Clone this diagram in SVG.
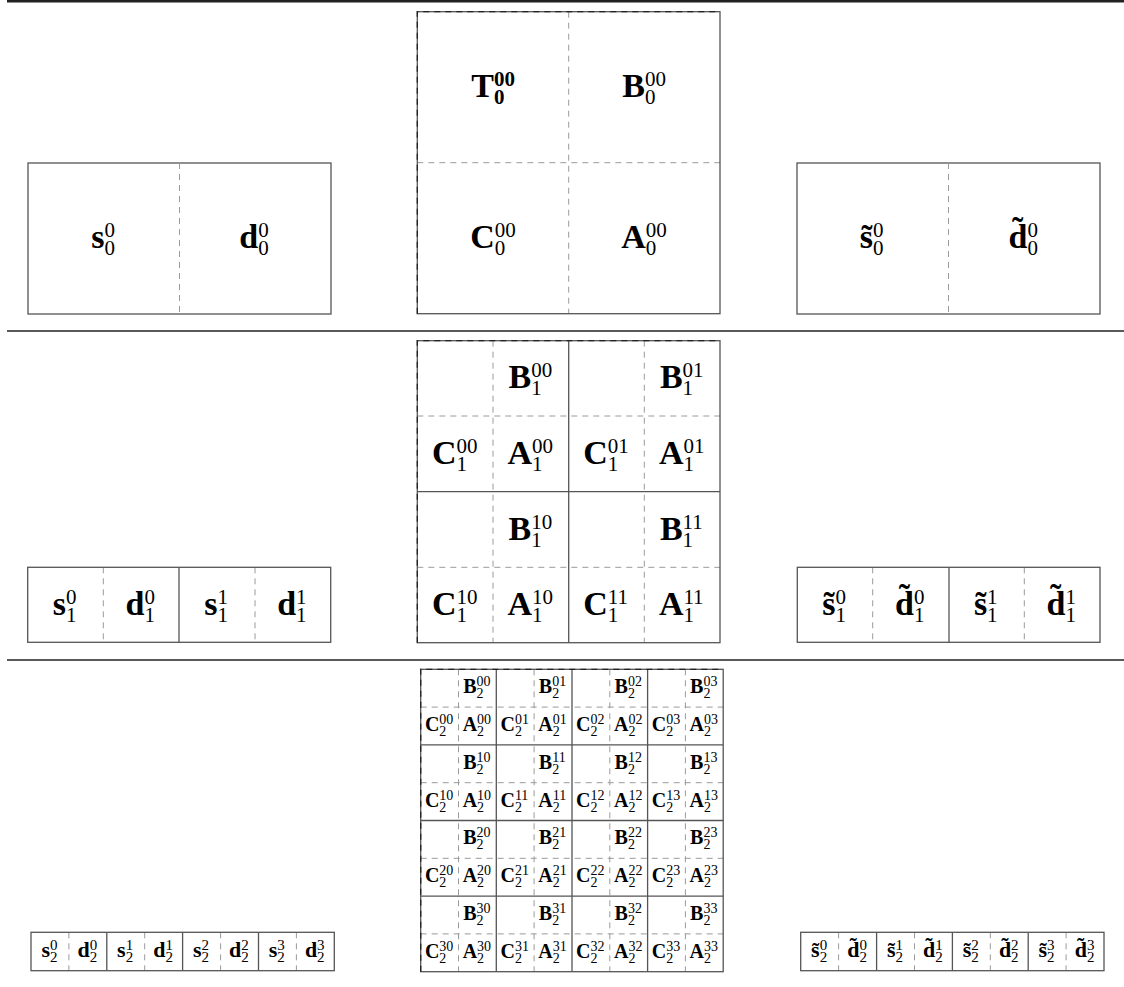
<svg xmlns="http://www.w3.org/2000/svg" width="1124" height="987" viewBox="0 0 1124 987">
<style>
.box{fill:none;stroke:#555;stroke-width:1.3}
.solid{fill:none;stroke:#555;stroke-width:1.3}
.dash{fill:none;stroke:#9a9a9a;stroke-width:1;stroke-dasharray:6 5}
.edge{fill:none;stroke:#222;stroke-width:1.3;stroke-dasharray:6 5}
.rule{stroke:#222}
text{font-family:"Liberation Serif","Times New Roman",serif;fill:#000}
.m1{font-size:34px;font-weight:bold}
.s1{font-size:21px;font-weight:normal}
.b1{font-size:21px;font-weight:bold}
.m2{font-size:20px;font-weight:bold}
.s2{font-size:14px;font-weight:normal}
.m3{font-size:22px;font-weight:bold}
.s3{font-size:15px;font-weight:normal}
</style>
<rect width="1124" height="987" fill="#fff"/>
<g id="rules">
<line class="rule" x1="7" y1="1.2" x2="1124" y2="1.2" stroke-width="2.4"/>
<line class="rule" x1="7" y1="331" x2="1124" y2="331" stroke-width="1.5"/>
<line class="rule" x1="7" y1="660" x2="1124" y2="660" stroke-width="1.5"/>
</g>
<g id="connectors"></g>

<g id="level0-signal">
<rect class="box" x="28" y="163" width="303" height="151"/>
<path class="dash" d="M179.5,163V314"/>
<text class="m1" x="91.2" y="248">s<tspan class="s1" x="104.4" dy="-11">0</tspan><tspan class="s1" x="104.4" dy="18">0</tspan></text>
<text class="m1" x="239.3" y="248">d<tspan class="s1" x="258.2" dy="-11">0</tspan><tspan class="s1" x="258.2" dy="18">0</tspan></text>
</g>

<g id="level0-matrix">
<path class="dash" d="M568.7,11.7V313.7M417.3,162.7H720"/>
<rect class="box" x="417.3" y="11.7" width="302.7" height="302"/>
<path class="edge" d="M417.3,313.7V11.7H720"/>
<text class="m1" x="471.2" y="97">T<tspan class="b1" x="493.9" dy="-11">00</tspan><tspan class="b1" x="493.9" dy="18">0</tspan></text>
<text class="m1" x="622.2" y="97">B<tspan class="s1" x="644.9" dy="-11">00</tspan><tspan class="s1" x="644.9" dy="18">0</tspan></text>
<text class="m1" x="470.3" y="248">C<tspan class="s1" x="494.8" dy="-11">00</tspan><tspan class="s1" x="494.8" dy="18">0</tspan></text>
<text class="m1" x="621.3" y="248">A<tspan class="s1" x="645.8" dy="-11">00</tspan><tspan class="s1" x="645.8" dy="18">0</tspan></text>
</g>

<g id="level0-transformed">
<rect class="box" x="797" y="163" width="303" height="151"/>
<path class="dash" d="M948.5,163V314"/>
<text class="m1" x="859.8" y="248">s̃<tspan class="s1" x="873" dy="-11">0</tspan><tspan class="s1" x="873" dy="18">0</tspan></text>
<text class="m1" x="1008.5" y="248">d̃<tspan class="s1" x="1027.4" dy="-11">0</tspan><tspan class="s1" x="1027.4" dy="18">0</tspan></text>
</g>

<g id="level1-signal">
<path class="dash" d="M103.3,567.3V642.3M255,567.3V642.3"/>
<path class="solid" d="M179,567.3V642.3"/>
<rect class="box" x="27.7" y="567.3" width="303" height="75"/>
<text class="m1" x="52.7" y="615">s<tspan class="s1" x="65.9" dy="-11">0</tspan><tspan class="s1" x="65.9" dy="18">1</tspan></text>
<text class="m1" x="125.5" y="615">d<tspan class="s1" x="144.4" dy="-11">0</tspan><tspan class="s1" x="144.4" dy="18">1</tspan></text>
<text class="m1" x="204.2" y="615">s<tspan class="s1" x="217.4" dy="-11">1</tspan><tspan class="s1" x="217.4" dy="18">1</tspan></text>
<text class="m1" x="277.2" y="615">d<tspan class="s1" x="296.1" dy="-11">1</tspan><tspan class="s1" x="296.1" dy="18">1</tspan></text>
</g>

<g id="level1-matrix">
<path class="dash" d="M493,340.7V642.7M644.3,340.7V642.7M417.3,416H720M417.3,567.3H720"/>
<path class="solid" d="M568.7,340.7V642.7M417.3,491.7H720"/>
<rect class="box" x="417.3" y="340.7" width="302.7" height="302"/>
<path class="edge" d="M417.3,642.7V340.7H720"/>
<text class="m1" x="508.5" y="388">B<tspan class="s1" x="531.2" dy="-11">00</tspan><tspan class="s1" x="531.2" dy="18">1</tspan></text>
<text class="m1" x="659.9" y="388">B<tspan class="s1" x="682.6" dy="-11">01</tspan><tspan class="s1" x="682.6" dy="18">1</tspan></text>
<text class="m1" x="431.9" y="464">C<tspan class="s1" x="456.4" dy="-11">00</tspan><tspan class="s1" x="456.4" dy="18">1</tspan></text>
<text class="m1" x="507.5" y="464">A<tspan class="s1" x="532" dy="-11">00</tspan><tspan class="s1" x="532" dy="18">1</tspan></text>
<text class="m1" x="583.2" y="464">C<tspan class="s1" x="607.7" dy="-11">01</tspan><tspan class="s1" x="607.7" dy="18">1</tspan></text>
<text class="m1" x="658.9" y="464">A<tspan class="s1" x="683.4" dy="-11">01</tspan><tspan class="s1" x="683.4" dy="18">1</tspan></text>
<text class="m1" x="508.5" y="540">B<tspan class="s1" x="531.2" dy="-11">10</tspan><tspan class="s1" x="531.2" dy="18">1</tspan></text>
<text class="m1" x="659.9" y="540">B<tspan class="s1" x="682.6" dy="-11">11</tspan><tspan class="s1" x="682.6" dy="18">1</tspan></text>
<text class="m1" x="431.9" y="615">C<tspan class="s1" x="456.4" dy="-11">10</tspan><tspan class="s1" x="456.4" dy="18">1</tspan></text>
<text class="m1" x="507.5" y="615">A<tspan class="s1" x="532" dy="-11">10</tspan><tspan class="s1" x="532" dy="18">1</tspan></text>
<text class="m1" x="583.2" y="615">C<tspan class="s1" x="607.7" dy="-11">11</tspan><tspan class="s1" x="607.7" dy="18">1</tspan></text>
<text class="m1" x="658.9" y="615">A<tspan class="s1" x="683.4" dy="-11">11</tspan><tspan class="s1" x="683.4" dy="18">1</tspan></text>
</g>

<g id="level1-transformed">
<path class="dash" d="M872.7,567.3V642.3M1024.3,567.3V642.3"/>
<path class="solid" d="M949,567.3V642.3"/>
<rect class="box" x="797.3" y="567.3" width="302.7" height="75"/>
<text class="m1" x="822.2" y="615">s̃<tspan class="s1" x="835.4" dy="-11">0</tspan><tspan class="s1" x="835.4" dy="18">1</tspan></text>
<text class="m1" x="895.1" y="615">d̃<tspan class="s1" x="914" dy="-11">0</tspan><tspan class="s1" x="914" dy="18">1</tspan></text>
<text class="m1" x="973.9" y="615">s̃<tspan class="s1" x="987.1" dy="-11">1</tspan><tspan class="s1" x="987.1" dy="18">1</tspan></text>
<text class="m1" x="1046.5" y="615">d̃<tspan class="s1" x="1065.4" dy="-11">1</tspan><tspan class="s1" x="1065.4" dy="18">1</tspan></text>
</g>

<g id="level2-signal">
<path class="dash" d="M68.9,932.3V970.7M144.7,932.3V970.7M220.6,932.3V970.7M296.4,932.3V970.7"/>
<path class="solid" d="M106.8,932.3V970.7M182.6,932.3V970.7M258.5,932.3V970.7"/>
<rect class="box" x="31" y="932.3" width="303.3" height="38.4"/>
<text class="m3" x="41.4" y="957">s<tspan class="s3" x="50" dy="-7.5">0</tspan><tspan class="s3" x="50" dy="12.5">2</tspan></text>
<text class="m3" x="77.5" y="957">d<tspan class="s3" x="89.7" dy="-7.5">0</tspan><tspan class="s3" x="89.7" dy="12.5">2</tspan></text>
<text class="m3" x="117.1" y="957">s<tspan class="s3" x="125.7" dy="-7.5">1</tspan><tspan class="s3" x="125.7" dy="12.5">2</tspan></text>
<text class="m3" x="153.3" y="957">d<tspan class="s3" x="165.5" dy="-7.5">1</tspan><tspan class="s3" x="165.5" dy="12.5">2</tspan></text>
<text class="m3" x="192.9" y="957">s<tspan class="s3" x="201.5" dy="-7.5">2</tspan><tspan class="s3" x="201.5" dy="12.5">2</tspan></text>
<text class="m3" x="229.1" y="957">d<tspan class="s3" x="241.3" dy="-7.5">2</tspan><tspan class="s3" x="241.3" dy="12.5">2</tspan></text>
<text class="m3" x="268.7" y="957">s<tspan class="s3" x="277.3" dy="-7.5">3</tspan><tspan class="s3" x="277.3" dy="12.5">2</tspan></text>
<text class="m3" x="304.9" y="957">d<tspan class="s3" x="317.1" dy="-7.5">3</tspan><tspan class="s3" x="317.1" dy="12.5">2</tspan></text>
</g>

<g id="level2-matrix">
<path class="dash" d="M458.5,669.3V971.7M534.1,669.3V971.7M609.8,669.3V971.7M685.4,669.3V971.7M420.7,707.1H723.2M420.7,782.7H723.2M420.7,858.3H723.2M420.7,933.9H723.2"/>
<path class="solid" d="M496.3,669.3V971.7M572,669.3V971.7M647.6,669.3V971.7M420.7,744.9H723.2M420.7,820.5H723.2M420.7,896.1H723.2"/>
<rect class="box" x="420.7" y="669.3" width="302.5" height="302.4"/>
<path class="edge" d="M420.7,971.7V669.3H723.2"/>
<g id="level2-row0">
<text class="m2" x="463.2" y="693.2">B<tspan class="s2" x="476.6" dy="-7">00</tspan><tspan class="s2" x="476.6" dy="12">2</tspan></text>
<text class="m2" x="538.8" y="693.2">B<tspan class="s2" x="552.2" dy="-7">01</tspan><tspan class="s2" x="552.2" dy="12">2</tspan></text>
<text class="m2" x="614.5" y="693.2">B<tspan class="s2" x="627.9" dy="-7">02</tspan><tspan class="s2" x="627.9" dy="12">2</tspan></text>
<text class="m2" x="690.1" y="693.2">B<tspan class="s2" x="703.5" dy="-7">03</tspan><tspan class="s2" x="703.5" dy="12">2</tspan></text>
<text class="m2" x="424.9" y="731">C<tspan class="s2" x="439.3" dy="-7">00</tspan><tspan class="s2" x="439.3" dy="12">2</tspan></text>
<text class="m2" x="462.7" y="731">A<tspan class="s2" x="477.1" dy="-7">00</tspan><tspan class="s2" x="477.1" dy="12">2</tspan></text>
<text class="m2" x="500.5" y="731">C<tspan class="s2" x="514.9" dy="-7">01</tspan><tspan class="s2" x="514.9" dy="12">2</tspan></text>
<text class="m2" x="538.3" y="731">A<tspan class="s2" x="552.7" dy="-7">01</tspan><tspan class="s2" x="552.7" dy="12">2</tspan></text>
<text class="m2" x="576.1" y="731">C<tspan class="s2" x="590.5" dy="-7">02</tspan><tspan class="s2" x="590.5" dy="12">2</tspan></text>
<text class="m2" x="614" y="731">A<tspan class="s2" x="628.4" dy="-7">02</tspan><tspan class="s2" x="628.4" dy="12">2</tspan></text>
<text class="m2" x="651.8" y="731">C<tspan class="s2" x="666.2" dy="-7">03</tspan><tspan class="s2" x="666.2" dy="12">2</tspan></text>
<text class="m2" x="689.6" y="731">A<tspan class="s2" x="704" dy="-7">03</tspan><tspan class="s2" x="704" dy="12">2</tspan></text>
</g>
<g id="level2-row1">
<text class="m2" x="463.2" y="768.8">B<tspan class="s2" x="476.6" dy="-7">10</tspan><tspan class="s2" x="476.6" dy="12">2</tspan></text>
<text class="m2" x="538.8" y="768.8">B<tspan class="s2" x="552.2" dy="-7">11</tspan><tspan class="s2" x="552.2" dy="12">2</tspan></text>
<text class="m2" x="614.5" y="768.8">B<tspan class="s2" x="627.9" dy="-7">12</tspan><tspan class="s2" x="627.9" dy="12">2</tspan></text>
<text class="m2" x="690.1" y="768.8">B<tspan class="s2" x="703.5" dy="-7">13</tspan><tspan class="s2" x="703.5" dy="12">2</tspan></text>
<text class="m2" x="424.9" y="806.6">C<tspan class="s2" x="439.3" dy="-7">10</tspan><tspan class="s2" x="439.3" dy="12">2</tspan></text>
<text class="m2" x="462.7" y="806.6">A<tspan class="s2" x="477.1" dy="-7">10</tspan><tspan class="s2" x="477.1" dy="12">2</tspan></text>
<text class="m2" x="500.5" y="806.6">C<tspan class="s2" x="514.9" dy="-7">11</tspan><tspan class="s2" x="514.9" dy="12">2</tspan></text>
<text class="m2" x="538.3" y="806.6">A<tspan class="s2" x="552.7" dy="-7">11</tspan><tspan class="s2" x="552.7" dy="12">2</tspan></text>
<text class="m2" x="576.1" y="806.6">C<tspan class="s2" x="590.5" dy="-7">12</tspan><tspan class="s2" x="590.5" dy="12">2</tspan></text>
<text class="m2" x="614" y="806.6">A<tspan class="s2" x="628.4" dy="-7">12</tspan><tspan class="s2" x="628.4" dy="12">2</tspan></text>
<text class="m2" x="651.8" y="806.6">C<tspan class="s2" x="666.2" dy="-7">13</tspan><tspan class="s2" x="666.2" dy="12">2</tspan></text>
<text class="m2" x="689.6" y="806.6">A<tspan class="s2" x="704" dy="-7">13</tspan><tspan class="s2" x="704" dy="12">2</tspan></text>
</g>
<g id="level2-row2">
<text class="m2" x="463.2" y="844.4">B<tspan class="s2" x="476.6" dy="-7">20</tspan><tspan class="s2" x="476.6" dy="12">2</tspan></text>
<text class="m2" x="538.8" y="844.4">B<tspan class="s2" x="552.2" dy="-7">21</tspan><tspan class="s2" x="552.2" dy="12">2</tspan></text>
<text class="m2" x="614.5" y="844.4">B<tspan class="s2" x="627.9" dy="-7">22</tspan><tspan class="s2" x="627.9" dy="12">2</tspan></text>
<text class="m2" x="690.1" y="844.4">B<tspan class="s2" x="703.5" dy="-7">23</tspan><tspan class="s2" x="703.5" dy="12">2</tspan></text>
<text class="m2" x="424.9" y="882.2">C<tspan class="s2" x="439.3" dy="-7">20</tspan><tspan class="s2" x="439.3" dy="12">2</tspan></text>
<text class="m2" x="462.7" y="882.2">A<tspan class="s2" x="477.1" dy="-7">20</tspan><tspan class="s2" x="477.1" dy="12">2</tspan></text>
<text class="m2" x="500.5" y="882.2">C<tspan class="s2" x="514.9" dy="-7">21</tspan><tspan class="s2" x="514.9" dy="12">2</tspan></text>
<text class="m2" x="538.3" y="882.2">A<tspan class="s2" x="552.7" dy="-7">21</tspan><tspan class="s2" x="552.7" dy="12">2</tspan></text>
<text class="m2" x="576.1" y="882.2">C<tspan class="s2" x="590.5" dy="-7">22</tspan><tspan class="s2" x="590.5" dy="12">2</tspan></text>
<text class="m2" x="614" y="882.2">A<tspan class="s2" x="628.4" dy="-7">22</tspan><tspan class="s2" x="628.4" dy="12">2</tspan></text>
<text class="m2" x="651.8" y="882.2">C<tspan class="s2" x="666.2" dy="-7">23</tspan><tspan class="s2" x="666.2" dy="12">2</tspan></text>
<text class="m2" x="689.6" y="882.2">A<tspan class="s2" x="704" dy="-7">23</tspan><tspan class="s2" x="704" dy="12">2</tspan></text>
</g>
<g id="level2-row3">
<text class="m2" x="463.2" y="920">B<tspan class="s2" x="476.6" dy="-7">30</tspan><tspan class="s2" x="476.6" dy="12">2</tspan></text>
<text class="m2" x="538.8" y="920">B<tspan class="s2" x="552.2" dy="-7">31</tspan><tspan class="s2" x="552.2" dy="12">2</tspan></text>
<text class="m2" x="614.5" y="920">B<tspan class="s2" x="627.9" dy="-7">32</tspan><tspan class="s2" x="627.9" dy="12">2</tspan></text>
<text class="m2" x="690.1" y="920">B<tspan class="s2" x="703.5" dy="-7">33</tspan><tspan class="s2" x="703.5" dy="12">2</tspan></text>
<text class="m2" x="424.9" y="957.8">C<tspan class="s2" x="439.3" dy="-7">30</tspan><tspan class="s2" x="439.3" dy="12">2</tspan></text>
<text class="m2" x="462.7" y="957.8">A<tspan class="s2" x="477.1" dy="-7">30</tspan><tspan class="s2" x="477.1" dy="12">2</tspan></text>
<text class="m2" x="500.5" y="957.8">C<tspan class="s2" x="514.9" dy="-7">31</tspan><tspan class="s2" x="514.9" dy="12">2</tspan></text>
<text class="m2" x="538.3" y="957.8">A<tspan class="s2" x="552.7" dy="-7">31</tspan><tspan class="s2" x="552.7" dy="12">2</tspan></text>
<text class="m2" x="576.1" y="957.8">C<tspan class="s2" x="590.5" dy="-7">32</tspan><tspan class="s2" x="590.5" dy="12">2</tspan></text>
<text class="m2" x="614" y="957.8">A<tspan class="s2" x="628.4" dy="-7">32</tspan><tspan class="s2" x="628.4" dy="12">2</tspan></text>
<text class="m2" x="651.8" y="957.8">C<tspan class="s2" x="666.2" dy="-7">33</tspan><tspan class="s2" x="666.2" dy="12">2</tspan></text>
<text class="m2" x="689.6" y="957.8">A<tspan class="s2" x="704" dy="-7">33</tspan><tspan class="s2" x="704" dy="12">2</tspan></text>
</g>
</g>

<g id="level2-transformed">
<path class="dash" d="M838.6,932.3V970.7M914.5,932.3V970.7M990.3,932.3V970.7M1066.1,932.3V970.7"/>
<path class="solid" d="M876.6,932.3V970.7M952.4,932.3V970.7M1028.2,932.3V970.7"/>
<rect class="box" x="800.7" y="932.3" width="303.3" height="38.4"/>
<text class="m3" x="811.1" y="957">s̃<tspan class="s3" x="819.7" dy="-7.5">0</tspan><tspan class="s3" x="819.7" dy="12.5">2</tspan></text>
<text class="m3" x="847.2" y="957">d̃<tspan class="s3" x="859.5" dy="-7.5">0</tspan><tspan class="s3" x="859.5" dy="12.5">2</tspan></text>
<text class="m3" x="886.9" y="957">s̃<tspan class="s3" x="895.5" dy="-7.5">1</tspan><tspan class="s3" x="895.5" dy="12.5">2</tspan></text>
<text class="m3" x="923" y="957">d̃<tspan class="s3" x="935.3" dy="-7.5">1</tspan><tspan class="s3" x="935.3" dy="12.5">2</tspan></text>
<text class="m3" x="962.7" y="957">s̃<tspan class="s3" x="971.3" dy="-7.5">2</tspan><tspan class="s3" x="971.3" dy="12.5">2</tspan></text>
<text class="m3" x="998.9" y="957">d̃<tspan class="s3" x="1011.1" dy="-7.5">2</tspan><tspan class="s3" x="1011.1" dy="12.5">2</tspan></text>
<text class="m3" x="1038.5" y="957">s̃<tspan class="s3" x="1047.1" dy="-7.5">3</tspan><tspan class="s3" x="1047.1" dy="12.5">2</tspan></text>
<text class="m3" x="1074.7" y="957">d̃<tspan class="s3" x="1087" dy="-7.5">3</tspan><tspan class="s3" x="1087" dy="12.5">2</tspan></text>
</g>
</svg>
